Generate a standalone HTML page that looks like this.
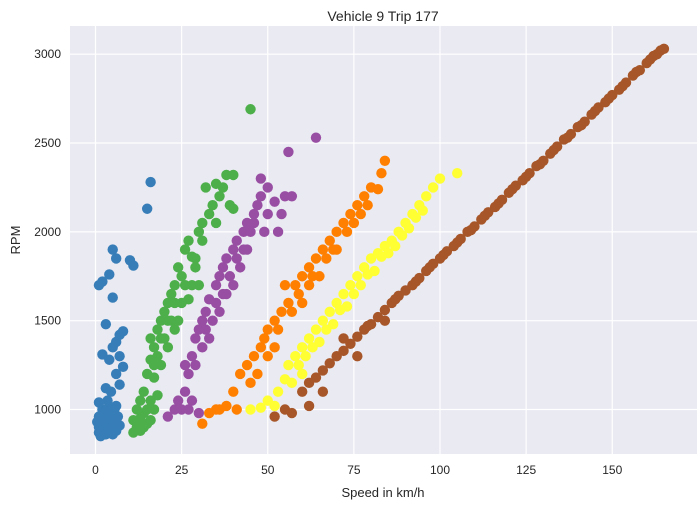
<!DOCTYPE html>
<html><head><meta charset="utf-8"><style>
body{margin:0;background:#fff;font-family:"Liberation Sans",sans-serif;}
svg text{font-family:"Liberation Sans",sans-serif;fill:#262626;}
</style></head><body>
<svg id="chart" width="700" height="507" viewBox="0 0 700 507">
<text x="383" y="21" font-size="14" text-anchor="middle">Vehicle 9 Trip 177</text>
<rect x="70" y="26" width="627" height="428" fill="#eaeaf2"/>
<g id="grid"></g><g id="ticks"></g><g id="marks"></g>
<text x="383" y="497" font-size="13" text-anchor="middle">Speed in km/h</text>
<text x="20" y="240" font-size="13" text-anchor="middle" transform="rotate(-90 20 240)">RPM</text>
</svg>
<script>
const xTicks=[0,25,50,75,100,125,150];
const yTicks=[1000,1500,2000,2500,3000];
const seriesNames=["gear-1","gear-2","gear-3","gear-4","gear-5","gear-6"];
const seriesColors=["#377eb8","#4daf4a","#984ea3","#ff7f00","#ffff33","#a65628"];
const gear1=[[1,900],[2,880],[3,920],[4,950],[5,900],[6,880],[1,960],[2,1000],[3,870],[4,890],[5,970],[6,930],[7,910],[0.5,930],[1.5,850],[2.5,980],[3.5,1050],[4.5,1100],[5.5,1000],[6.5,960],[1,870],[2,940],[3,860],[4,1010],[5,860],[6,1020],[1,1040],[2,1720],[1,1700],[5,1900],[6,1850],[5,1630],[4,1760],[10,1840],[11,1810],[7,1420],[8,1440],[6,1380],[3,1480],[2,1310],[4,1280],[7,1300],[8,1240],[6,1200],[3,1120],[7,1140],[5,1350],[16,2280],[15,2130]];
const gear2=[[11,870],[12,900],[13,950],[14,900],[15,1000],[16,1050],[14,1100],[15,1200],[16,1280],[17,1350],[18,1300],[18,1450],[19,1500],[20,1550],[21,1600],[22,1650],[20,1400],[17,1180],[23,1700],[24,1800],[22,1500],[25,1750],[26,1900],[27,1950],[28,1860],[29,1850],[30,2000],[31,1950],[32,2250],[33,2100],[35,2270],[38,2320],[40,2320],[39,2150],[40,2130],[35,2050],[45,2690],[36,2200],[27,1620],[30,1700],[16,1400],[24,1500],[13,880],[15,920],[12,1000],[14,980],[16,940],[17,1000],[18,1080],[13,1050],[19,1250],[21,1350],[23,1450],[25,1600],[28,1700],[11,940],[17,1250],[19,1400],[21,1500],[23,1600],[26,1700],[29,1800],[31,2050],[34,2150],[37,2250]];
const gear3=[[21,960],[23,1000],[24,1050],[26,1100],[27,1200],[28,1300],[29,1400],[30,1450],[31,1500],[32,1550],[33,1620],[35,1700],[36,1750],[37,1800],[38,1850],[40,1900],[41,1950],[43,2000],[44,2050],[46,2100],[47,2150],[48,2200],[50,2250],[55,2200],[56,2450],[64,2530],[52,2170],[48,2300],[54,2100],[45,2000],[40,1700],[33,1400],[25,1000],[27,1000],[30,980],[38,1650],[42,1800],[49,2000],[53,2000],[57,2200],[36,1550],[29,1250],[26,1250],[28,1050],[34,1500],[39,1750],[44,1900],[31,1350],[35,1600],[37,1650],[41,1850],[46,2050],[50,2100],[32,1450],[43,1900]];
const gear4=[[31,920],[33,980],[35,1000],[38,1020],[40,1100],[42,1200],[44,1250],[46,1300],[48,1350],[50,1450],[52,1500],[54,1550],[56,1600],[58,1700],[60,1750],[62,1800],[64,1850],[66,1900],[68,1950],[70,2000],[72,2050],[74,2100],[76,2150],[80,2250],[82,2240],[84,2400],[83,2330],[78,2200],[45,1150],[50,1300],[55,1700],[60,1600],[65,1750],[70,1900],[73,2000],[41,1000],[36,1000],[47,1200],[52,1350],[57,1550],[62,1700],[67,1850],[49,1400],[53,1450],[59,1650],[63,1750],[69,1900],[75,2050],[77,2100],[79,2150]];
const gear5=[[45,1000],[48,1010],[50,1050],[53,1100],[55,1170],[56,1250],[58,1300],[60,1350],[62,1400],[64,1450],[66,1500],[68,1550],[70,1600],[72,1650],[74,1700],[76,1750],[78,1800],[80,1850],[82,1880],[84,1920],[86,1950],[88,2000],[90,2050],[92,2100],[94,2150],[96,2200],[98,2250],[100,2300],[105,2330],[57,1150],[61,1300],[65,1380],[69,1480],[73,1580],[77,1700],[81,1780],[85,1880],[52,1020],[60,1200],[87,1920],[91,2020],[95,2120],[59,1250],[63,1350],[67,1450],[71,1560],[75,1650],[79,1760],[83,1860],[89,1980],[93,2080]];
const gear6=[[52,960],[55,1000],[57,980],[60,1100],[62,1150],[64,1180],[66,1220],[68,1260],[70,1300],[72,1330],[74,1370],[76,1410],[78,1450],[80,1480],[82,1520],[84,1560],[86,1600],[88,1640],[90,1670],[92,1700],[94,1740],[96,1780],[98,1820],[100,1850],[102,1890],[104,1920],[106,1960],[108,2000],[110,2030],[112,2070],[114,2110],[116,2140],[118,2180],[120,2220],[122,2260],[124,2290],[126,2330],[128,2370],[130,2400],[132,2440],[134,2480],[136,2520],[138,2550],[140,2590],[142,2620],[144,2660],[146,2700],[148,2730],[150,2770],[152,2800],[154,2840],[156,2880],[158,2910],[160,2950],[162,2990],[164,3020],[165,3030],[62,1020],[66,1100],[72,1400],[76,1300],[84,1500],[101,1870],[109,2010],[117,2160],[125,2310],[133,2460],[141,2600],[149,2750],[157,2900],[163,3000],[79,1470],[87,1620],[93,1720],[97,1800],[105,1940],[113,2090],[121,2240],[129,2380],[137,2530],[145,2680],[153,2820],[161,2970]];
const seriesData=[gear1,gear2,gear3,gear4,gear5,gear6];
const NS="http://www.w3.org/2000/svg";
const xS=v=>95.5+v*3.445;
const yS=v=>409.5-(v-1000)*0.17766;
const grid=document.getElementById('grid'),ticks=document.getElementById('ticks'),marks=document.getElementById('marks');
xTicks.forEach(t=>{
 const l=document.createElementNS(NS,'line');
 l.setAttribute('x1',xS(t));l.setAttribute('x2',xS(t));l.setAttribute('y1',26);l.setAttribute('y2',454);
 l.setAttribute('stroke','#fff');l.setAttribute('stroke-width','1.2');
 
 
 grid.appendChild(l);
 const tx=document.createElementNS(NS,'text');
 tx.setAttribute('x',xS(t));tx.setAttribute('y',474);tx.setAttribute('font-size','12');tx.setAttribute('text-anchor','middle');
 tx.textContent=t;
 
 
 ticks.appendChild(tx);
});
yTicks.forEach(t=>{
 const l=document.createElementNS(NS,'line');
 l.setAttribute('x1',70);l.setAttribute('x2',697);l.setAttribute('y1',yS(t));l.setAttribute('y2',yS(t));
 l.setAttribute('stroke','#fff');l.setAttribute('stroke-width','1.2');
 
 
 grid.appendChild(l);
 const tx=document.createElementNS(NS,'text');
 tx.setAttribute('x',61);tx.setAttribute('y',yS(t)+4);tx.setAttribute('font-size','12');tx.setAttribute('text-anchor','end');
 tx.textContent=t;
 
 
 ticks.appendChild(tx);
});
seriesData.forEach((pts,i)=>{
 const g=document.createElementNS(NS,'g');
 
 
 pts.forEach(p=>{
  const c=document.createElementNS(NS,'circle');
  c.setAttribute('cx',xS(p[0]));c.setAttribute('cy',yS(p[1]));c.setAttribute('r',5.2);
  c.setAttribute('fill',seriesColors[i]);
  
  
  g.appendChild(c);
 });
 marks.appendChild(g);
});
</script>
</body></html>
